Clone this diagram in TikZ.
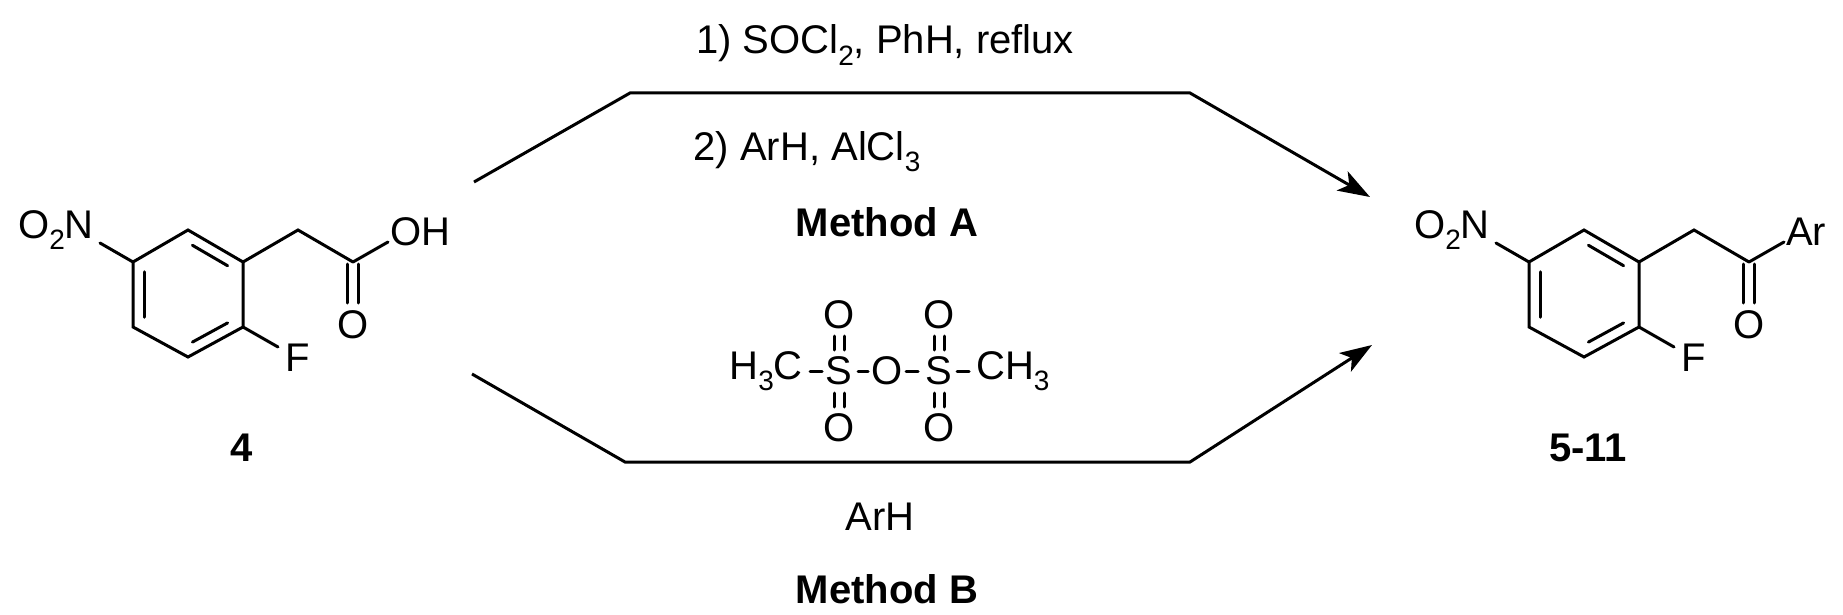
\documentclass[tikz,border=0pt]{standalone}
\usepackage{fontspec}
\setmainfont{Liberation Sans}
\usetikzlibrary{arrows.meta,calc}
\newcommand{\chsub}[1]{\raisebox{-0.28em}{\fontsize{28}{28}\selectfont #1}}
\tikzset{
  bond/.style={line width=3pt, line cap=round},
  rxn/.style={line width=3pt, line join=miter, -{Stealth[length=32pt,width=22pt,inset=8pt]}},
  lbl/.style={inner sep=0pt, font=\fontsize{40}{40}\selectfont},
  blbl/.style={inner sep=0pt, font=\fontsize{40}{40}\selectfont\bfseries},
}
\newcommand{\phenyl}[2]{%
  \begin{scope}[shift={(#1,0)}]
  \coordinate (#2a1) at (188,230); \coordinate (#2a2) at (133,262);
  \coordinate (#2a3) at (133,327); \coordinate (#2a4) at (188,357);
  \coordinate (#2a5) at (243,327); \coordinate (#2a6) at (243,262);
  \draw[bond] (#2a1)--(#2a2)--(#2a3)--(#2a4)--(#2a5)--(#2a6)--cycle;
  \draw[bond] ($(#2a1)!0.18!(#2a6)+(-5.5,9.5)$) -- ($(#2a1)!0.82!(#2a6)+(-5.5,9.5)$);
  \draw[bond] ($(#2a4)!0.18!(#2a5)+(-5.5,-9.5)$) -- ($(#2a4)!0.82!(#2a5)+(-5.5,-9.5)$);
  \draw[bond] ($(#2a2)!0.15!(#2a3)+(11,0)$) -- ($(#2a2)!0.85!(#2a3)+(11,0)$);
  \coordinate (#2n) at (100,243);
  \draw[bond] (#2a2)--(#2n);
  \node[lbl, anchor=east] (#2no2) at (94,230) {O\chsub{2}N};
  \coordinate (#2ch2) at (298,230);
  \coordinate (#2c) at (353,262);
  \draw[bond] (#2a6)--(#2ch2)--(#2c);
  \draw[bond] (347.5,264)--(347.5,303);
  \draw[bond] (358.5,264)--(358.5,303);
  \node[lbl] (#2o) at (353,325) {O};
  \coordinate (#2oh) at (388,242);
  \draw[bond] (#2c)--(#2oh);
  \coordinate (#2f) at (278,347);
  \draw[bond] (#2a5)--(#2f);
  \node[lbl] (#2fl) at (298,358) {F};
  \end{scope}}
\begin{document}
\begin{tikzpicture}[x=1pt,y=-1pt]
\useasboundingbox (0,0) rectangle (1843,615);
\phenyl{0}{L}
\node[lbl, anchor=west] (oh) at (390,232) {OH};
\node[blbl] (n4) at (242,448) {4};
\phenyl{1396}{R}
\node[lbl, anchor=west] (ar) at (1786,232) {Ar};
\node[blbl] (n511) at (1588,448) {5-11};
% arrows
\coordinate (u0) at (474,182); \coordinate (u1) at (630,93);
\coordinate (u2) at (1190,93); \coordinate (u3) at (1370,197);
\coordinate (d0) at (472,374); \coordinate (d1) at (625,462);
\coordinate (d2) at (1190,462); \coordinate (d3) at (1372,345);
\draw[rxn] (u0)--(u1)--(u2)--(u3);
\draw[rxn] (d0)--(d1)--(d2)--(d3);
\node[lbl] (t1) at (885,45) {1) SOCl\chsub{2}, PhH, reflux};
\node[lbl] (t2) at (807,152) {2) ArH, AlCl\chsub{3}};
\node[blbl] (ma) at (887,222) {Method A};
% Ms2O
\node[lbl, anchor=east] (h3c) at (803,371) {H\chsub{3}C};
\node[lbl] (s1) at (839,371) {S};
\node[lbl] (ob) at (887,371) {O};
\node[lbl] (s2) at (939,371) {S};
\node[lbl, anchor=west] (ch3) at (976,371) {CH\chsub{3}};
\node[lbl] (o1) at (839,315) {O};
\node[lbl] (o2) at (839,428) {O};
\node[lbl] (o3) at (939,315) {O};
\node[lbl] (o4) at (939,428) {O};
\draw[bond] (810,371)--(822,371);
\draw[bond] (858,371)--(868,371);
\draw[bond] (906,371)--(918,371);
\draw[bond] (957,371)--(969,371);
\foreach \xx in {834,844,934,944}{
  \draw[bond] (\xx,336)--(\xx,350);
  \draw[bond] (\xx,393)--(\xx,407);}
\node[lbl] (arh) at (880,517) {ArH};
\node[blbl] (mb) at (887,589) {Method B};
\end{tikzpicture}
\end{document}
